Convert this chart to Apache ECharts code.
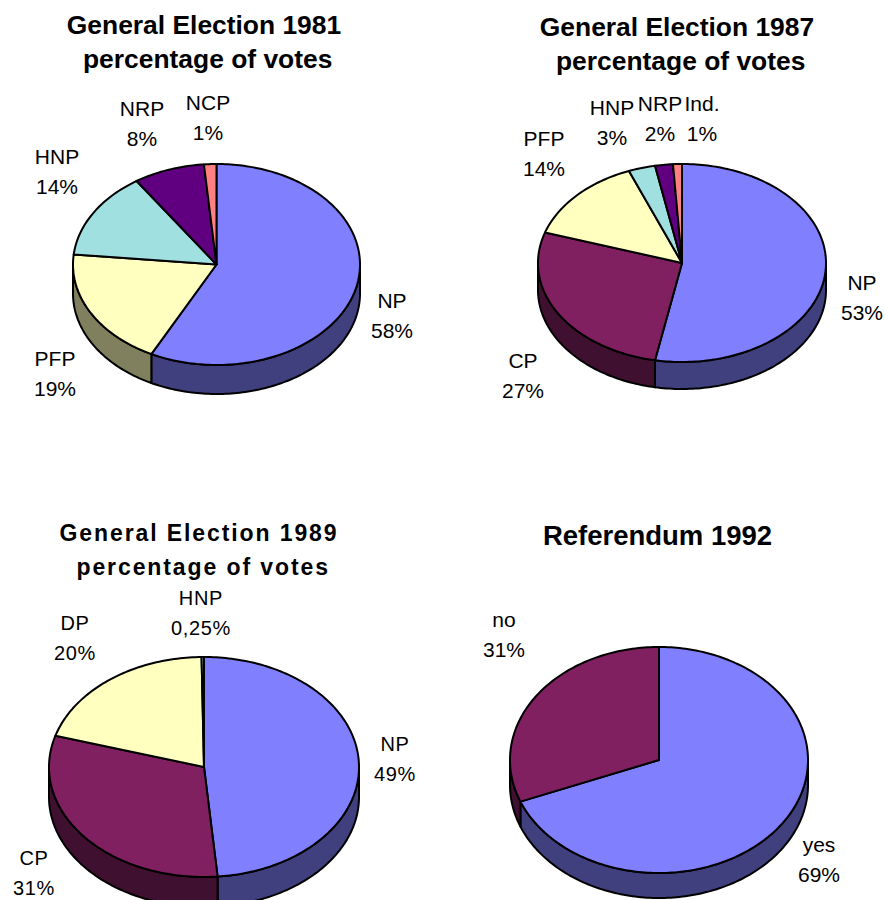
<!DOCTYPE html>
<html>
<head>
<meta charset="utf-8">
<title>Elections</title>
<script src="https://cdn.jsdelivr.net/npm/echarts@6/dist/echarts.min.js"></script>
<style>
html,body{margin:0;padding:0;background:#fff;}
#main{width:885px;height:900px;}
/* the 1989 panel is set wider in the original */
#main text[style*="23px"]{letter-spacing:1.9px;}
#main text[style*="20px"]{letter-spacing:.7px;}
</style>
</head>
<body>
<div id="main"></div>
<script>
var names1981 = ['NP', 'PFP', 'HNP', 'NRP', 'NCP'];
var values1981 = [57.5, 19.1, 14, 8, 1.4];
var labels1981 = ['58%', '19%', '14%', '8%', '1%'];
var names1987 = ['NP', 'CP', 'PFP', 'HNP', 'NRP', 'Ind.'];
var values1987 = [53, 27, 14, 3, 2, 1];
var labels1987 = ['53%', '27%', '14%', '3%', '2%', '1%'];
var names1989 = ['NP', 'CP', 'DP', 'HNP'];
var values1989 = [48.6, 31, 20.15, 0.25];
var labels1989 = ['49%', '31%', '20%', '0,25%'];
var names1992 = ['yes', 'no'];
var values1992 = [69, 31];
var labels1992 = ['69%', '31%'];

var TOP = {NP:'#8080ff', CP:'#802060', PFP:'#ffffc0', DP:'#ffffc0', HNP:'#a0e0e0', NRP:'#600080', NCP:'#ff8080', 'Ind.':'#ff8080', yes:'#8080ff', no:'#802060'};
var SIDE = {NP:'#40407f', CP:'#401030', PFP:'#80805f', DP:'#80805f', HNP:'#507070', NRP:'#300040', NCP:'#7f4040', 'Ind.':'#7f4040', yes:'#40407f', no:'#401030'};

var panels = [
    {names:names1981, values:values1981, texts:labels1981, cx:216.5, cy:264.5, rx:143.5, ry:100.5, depth:29, labelSize:21,
     labels:[[392,315],[55,373],[57,171],[142,123],[208,117]]},
    {names:names1987, values:values1987, texts:labels1987, cx:682, cy:263, rx:144, ry:99, depth:27, labelSize:21,
     labels:[[862,297],[523,375],[544,153],[612,122],[660,118],[702,118]]},
    {names:names1989, values:values1989, texts:labels1989, cx:204, cy:767, rx:155, ry:110, depth:30, labelSize:20,
     labels:[[395,759],[34,873],[75,638],[201,613]]},
    {names:names1992, values:values1992, texts:labels1992, cx:659, cy:760, rx:149, ry:113, depth:25, labelSize:21,
     labels:[[819,859],[504,634]]}
];

var titles = [
    {text:'General Election 1981\n percentage of votes', left:204, top:8, size:26.4},
    {text:'General Election 1987\n percentage of votes', left:677, top:10, size:26.4},
    {text:'General Election 1989\n percentage of votes', left:199, top:516, size:23},
    {text:'Referendum 1992', left:657.5, top:518, size:27.5}
];

function rim(p, t, dy){
    return [p.cx + p.rx * Math.sin(t), p.cy - p.ry * Math.cos(t) + (dy || 0)];
}

function arcPoints(p, a, b, dy){
    var pts = [];
    var n = Math.max(2, Math.ceil((b - a) / 0.02));
    for(var i = 0; i <= n; i++){
        pts.push(rim(p, a + (b - a) * i / n, dy));
    }
    return pts;
}

function pieRender(p){
    var total = p.values.reduce(function(s, v){ return s + v; }, 0);
    return function(params, api){
        var idx = params.dataIndex;
        var before = 0;
        for(var i = 0; i < idx; i++) before += p.values[i];
        var a = before / total * Math.PI * 2;
        var b = a + api.value(0) / total * Math.PI * 2;
        var name = p.names[idx];
        var children = [];
        var lineStyle = {stroke:'#000', lineWidth:2, lineJoin:'round'};

        // outer wall, only the half that faces the viewer
        var a2 = Math.max(a, Math.PI / 2), b2 = Math.min(b, Math.PI * 1.5);
        if(b2 > a2){
            var wall = arcPoints(p, a2, b2, 0).concat(arcPoints(p, a2, b2, p.depth).reverse());
            children.push({
                type:'polygon', z2:1,
                shape:{points:wall},
                style:Object.assign({fill:SIDE[name]}, lineStyle)
            });
        }
        children.push({
            type:'polygon', z2:5 + idx,
            shape:{points:[[p.cx, p.cy]].concat(arcPoints(p, a, b, 0))},
            style:Object.assign({fill:TOP[name]}, lineStyle)
        });
        children.push({
            type:'text', z2:50,
            style:{
                x:p.labels[idx][0], y:p.labels[idx][1],
                text:name + '\n' + p.texts[idx],
                fill:'#000',
                fontFamily:'"Liberation Sans"', fontSize:p.labelSize, lineHeight:30,
                textAlign:'center', textVerticalAlign:'middle'
            }
        });
        return {type:'group', children:children};
    };
}

var myChart = echarts.init(document.getElementById('main'), null, {renderer:'svg'});
myChart.setOption({
    animation:false,
    backgroundColor:'#fff',
    title:titles.map(function(t){
        return {
            text:t.text, left:t.left, top:t.top, textAlign:'center', padding:0,
            textStyle:{color:'#000', fontFamily:'"Liberation Sans"', fontWeight:'bold', fontSize:t.size, lineHeight:34}
        };
    }),
    series:panels.map(function(p){
        return {
            type:'custom',
            coordinateSystem:'none',
            silent:true,
            clip:false,
            renderItem:pieRender(p),
            data:p.values.map(function(v){ return [v]; })
        };
    })
});
</script>
</body>
</html>
